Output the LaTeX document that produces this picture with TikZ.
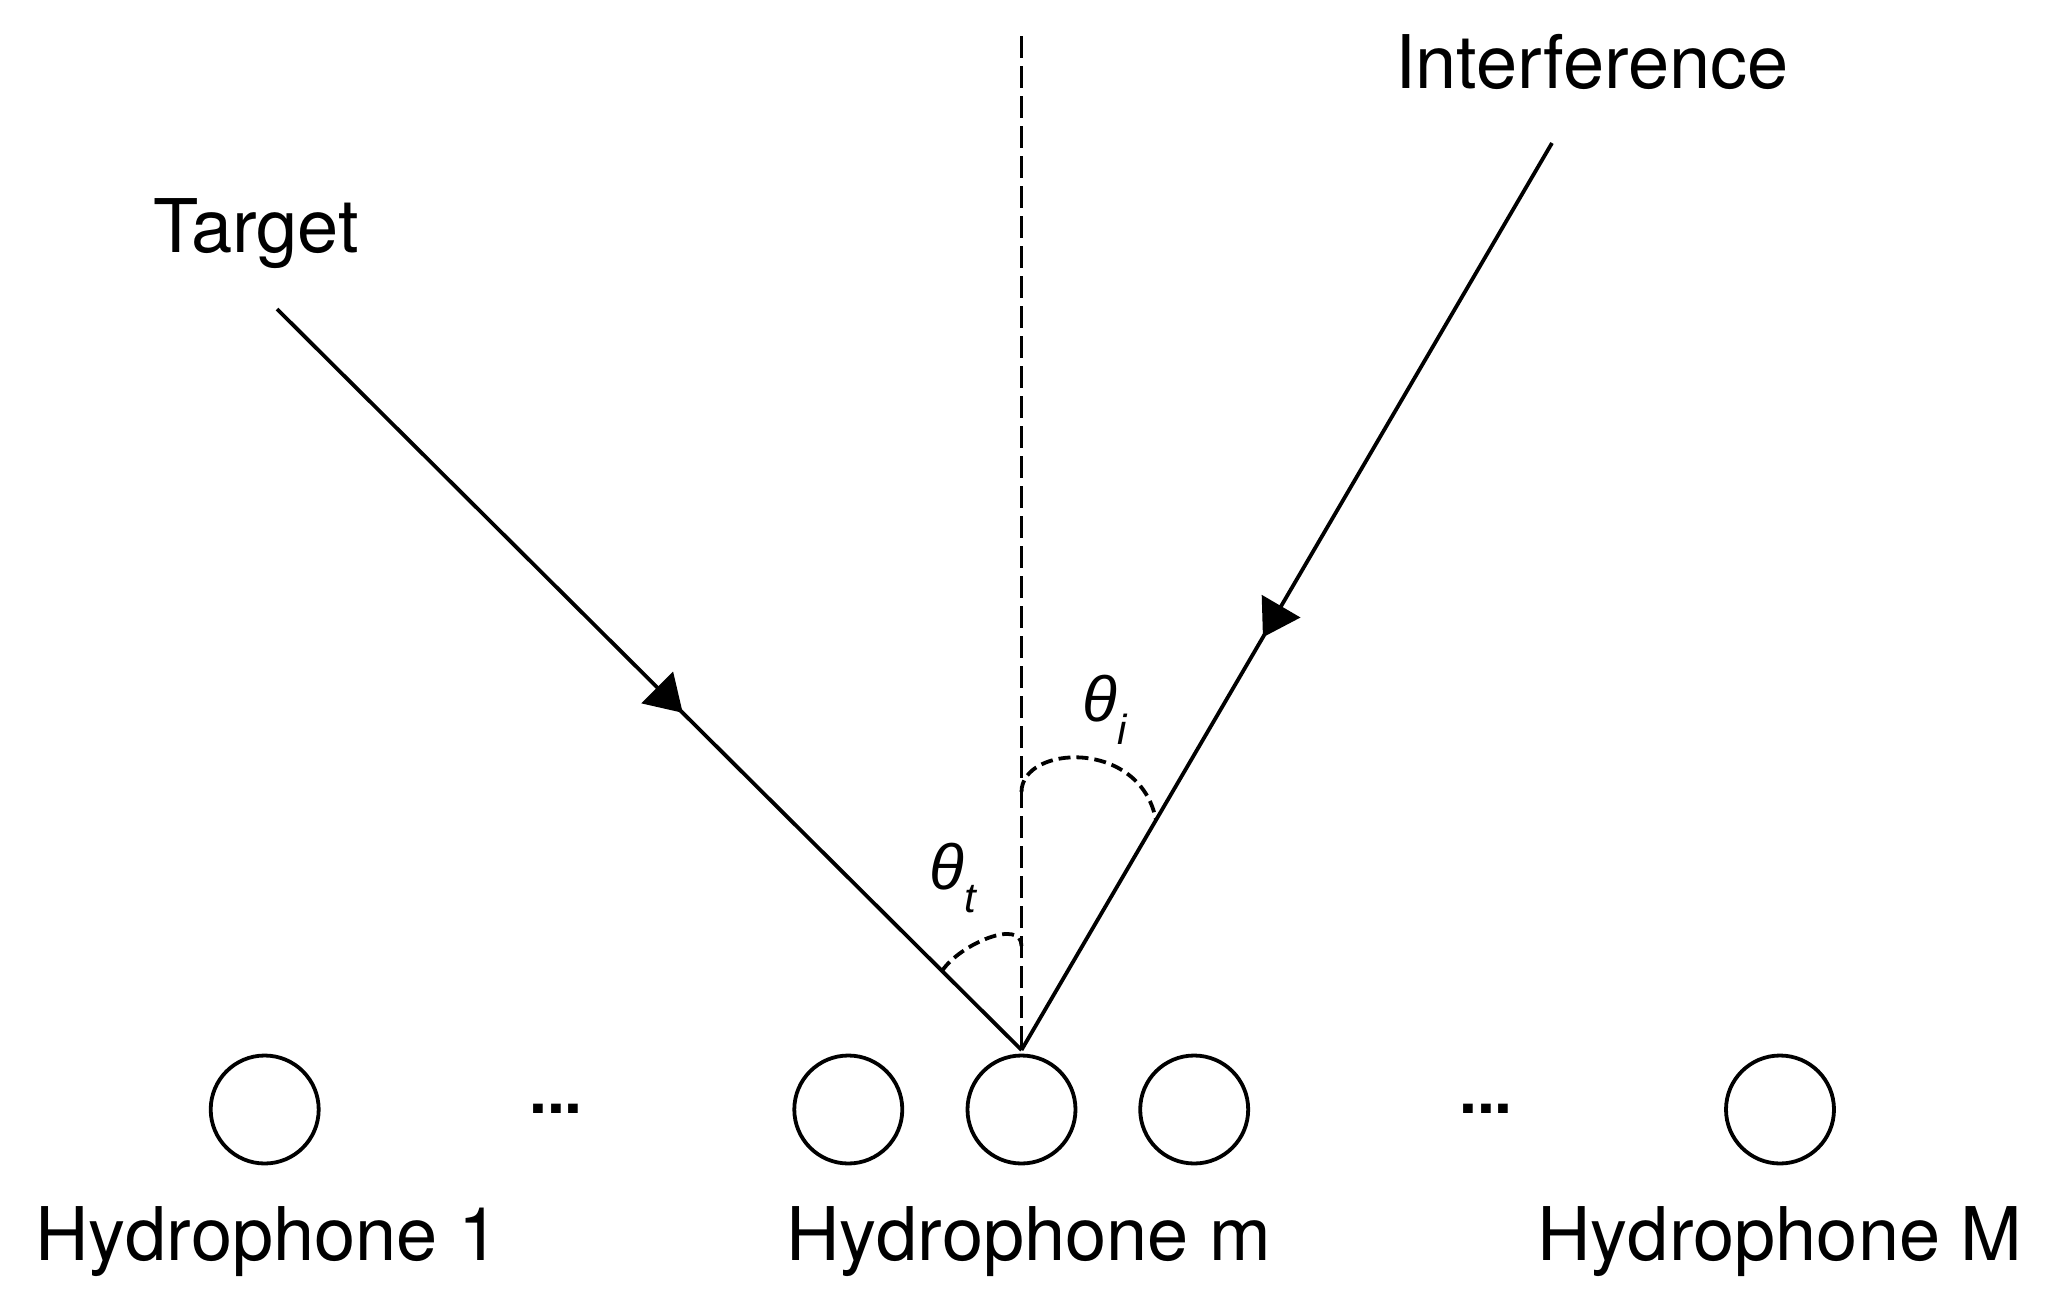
\documentclass[tikz,border=0pt]{standalone}
\usepackage{fontspec}
\setmainfont{TeX Gyre Heros}
\newfontfamily\grkfont{Liberation Sans}
\usetikzlibrary{arrows.meta,decorations.markings}
\begin{document}
\begin{tikzpicture}[x=0.5pt,y=-0.5pt,
  ray/.style={line width=1.9pt, postaction={decorate},
    decoration={markings, mark=at position 0.545 with {\arrow{Triangle[length=18pt,width=22pt]}}}},
  guide/.style={line width=1.9pt, dash pattern=on 11pt off 4pt},
  anglearc/.style={line width=1.9pt, dash pattern=on 6pt off 3pt},
  phone/.style={circle, draw, line width=1.9pt, minimum size=54pt, inner sep=0pt},
  lbl/.style={font=\fontsize{37}{44}\selectfont, inner sep=0pt, anchor=base},
  dotlbl/.style={font=\bfseries\fontsize{32}{38}\selectfont, inner sep=0pt, anchor=base},
  ang/.style={font=\grkfont\itshape\fontsize{32}{38}\selectfont, inner sep=0pt, anchor=base west}]
\useasboundingbox (0,0) rectangle (2062,1306);

% hydrophones
\node[phone] (h1)  at (264.7,1109.5) {};
\node[phone] (hm1) at (848.3,1109.5) {};
\node[phone] (hm)  at (1021.5,1109.5) {};
\node[phone] (hm2) at (1194.2,1109.5) {};
\node[phone] (hM)  at (1780,1109.5) {};
\node[dotlbl] (d1) at (556,1113) {...};
\node[dotlbl] (d2) at (1486,1113) {...};

% labels
\node[lbl] (l1) at (267.5,1260) {Hydrophone 1};
\node[lbl] (lm) at (1028.7,1260) {Hydrophone m};
\node[lbl] (lM) at (1780,1260) {Hydrophone M};
\node[lbl] (tgt) at (256,252) {Target};
\node[lbl] (itf) at (1592,88) {Interference};

% geometry
\coordinate (V)  at (1021.5,1050);
\coordinate (top) at (1021.5,36);
\coordinate (T0) at (277,309);
\coordinate (I0) at (1552,143);

\draw[guide] (top) -- (V);
\draw[ray] (T0) -- (V);
\draw[ray] (I0) -- (V);

% angle arcs
\coordinate (ai0) at (1021.5,792);
\coordinate (ai1) at (1156,820);
\draw[anglearc] (ai0) .. controls (1021.5,745) and (1140,738) .. (ai1);
\coordinate (at0) at (942,971);
\coordinate (at1) at (1021.5,946);
\draw[anglearc] (at0) .. controls (960,944) and (1021.5,918) .. (at1);

% angle labels
\node[ang] (tht) at (929,889) {θ\raisebox{-11.5pt}{\fontsize{21}{25}\selectfont t}};
\node[ang] (thi) at (1082,721) {θ\raisebox{-11.5pt}{\fontsize{21}{25}\selectfont i}};
\end{tikzpicture}
\end{document}
